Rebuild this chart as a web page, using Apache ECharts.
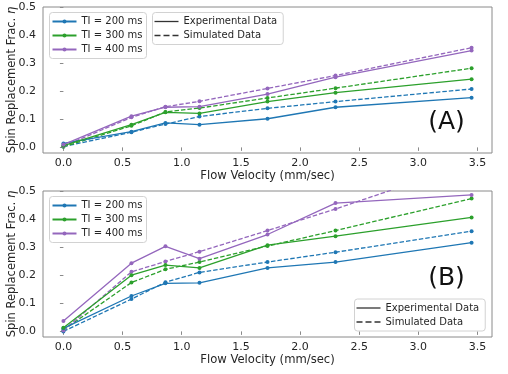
<!DOCTYPE html>
<html>
<head>
<meta charset="utf-8">
<script src="https://cdn.jsdelivr.net/npm/echarts@6.0.0/dist/echarts.min.js"></script>
<style>
  html, body { margin: 0; padding: 0; background: #fff; }
  #main { width: 508px; height: 374px; }
</style>
</head>
<body>
<div id="main"></div>
<script>
// flow velocity (mm/sec), same for every curve
const flowVelocity = [0, 0.575, 0.8625, 1.15, 1.725, 2.3, 3.45];

// panel (A)
const expA200 = [0.014, 0.056, 0.087, 0.081, 0.102, 0.143, 0.177];
const simA200 = [0.003, 0.054, 0.083, 0.110, 0.139, 0.163, 0.208];
const expA300 = [0.006, 0.081, 0.125, 0.121, 0.163, 0.195, 0.243];
const simA300 = [0.002, 0.077, 0.126, 0.140, 0.176, 0.211, 0.282];
const expA400 = [0.010, 0.111, 0.143, 0.145, 0.190, 0.250, 0.345];
const simA400 = [0.004, 0.107, 0.145, 0.164, 0.210, 0.256, 0.355];

// panel (B)
const expB200 = [0.011, 0.126, 0.171, 0.173, 0.226, 0.247, 0.316];
const simB200 = [0.000, 0.115, 0.175, 0.210, 0.247, 0.282, 0.357];
const expB300 = [0.013, 0.200, 0.236, 0.226, 0.307, 0.339, 0.406];
const simB300 = [0.005, 0.174, 0.221, 0.247, 0.304, 0.359, 0.473];
const expB400 = [0.037, 0.243, 0.303, 0.259, 0.345, 0.457, 0.486];
const simB400 = [0.003, 0.212, 0.249, 0.284, 0.359, 0.436, 0.600];

const tiNames = ['TI = 200 ms', 'TI = 300 ms', 'TI = 400 ms'];
const styleNames = ['Experimental Data', 'Simulated Data'];
const xTicks = [0, 0.5, 1.0, 1.5, 2.0, 2.5, 3.0, 3.5];
const yTicks = [0, 0.1, 0.2, 0.3, 0.4, 0.5];

const colors = ['#1f77b4', '#2ca02c', '#9467bd'];
const spine = '#8a8a8a';
const font = 'DejaVu Sans';

function pairs(ys) {
  return flowVelocity.map((x, i) => [x, ys[i]]);
}

function xAxis(gi) {
  return {
    type: 'value', gridIndex: gi, min: -0.1725, max: 3.6225,
    axisLine: { show: false },
    axisTick: { show: true, length: 3.5, customValues: xTicks, lineStyle: { color: spine } },
    axisLabel: { customValues: xTicks, formatter: v => v.toFixed(1), fontFamily: font, fontSize: 11, color: '#262626', margin: 5, hideOverlap: false },
    splitLine: { show: false },
    name: 'Flow Velocity (mm/sec)', nameLocation: 'middle', nameGap: 17, nameMoveOverlap: false,
    nameTextStyle: { fontFamily: font, fontSize: 11.6, color: '#262626' }
  };
}

function yAxis(gi) {
  return {
    type: 'value', gridIndex: gi, min: -0.02, max: 0.5,
    axisLine: { show: false },
    axisTick: { show: true, length: 3.5, customValues: yTicks, lineStyle: { color: spine } },
    axisLabel: { customValues: yTicks, formatter: v => v.toFixed(1), fontFamily: font, fontSize: 11, color: '#262626', margin: 7, hideOverlap: false },
    splitLine: { show: false },
    name: '{n|Spin Replacement Frac. }{e|η}', nameLocation: 'middle', nameGap: 25, nameMoveOverlap: false,
    nameTextStyle: {
      color: '#262626',
      rich: {
        n: { fontFamily: font, fontSize: 11.5, color: '#262626' },
        e: { fontFamily: font, fontSize: 11.5, fontStyle: 'italic', color: '#262626' }
      }
    }
  };
}

function lineSeries(name, ys, ci, gi, dashed) {
  return {
    type: 'line', name: name, data: pairs(ys),
    xAxisIndex: gi, yAxisIndex: gi,
    color: colors[ci],
    symbol: 'circle', symbolSize: 4, showAllSymbol: true,
    lineStyle: { width: 1.3, type: dashed ? [4.5, 2] : 'solid' },
    clip: true, z: dashed ? 2 : 3
  };
}

const series = [
  lineSeries(tiNames[0], expA200, 0, 0, false),
  lineSeries(tiNames[1], expA300, 1, 0, false),
  lineSeries(tiNames[2], expA400, 2, 0, false),
  lineSeries('sim 200 A', simA200, 0, 0, true),
  lineSeries('sim 300 A', simA300, 1, 0, true),
  lineSeries('sim 400 A', simA400, 2, 0, true),
  lineSeries('exp 200 B', expB200, 0, 1, false),
  lineSeries('exp 300 B', expB300, 1, 1, false),
  lineSeries('exp 400 B', expB400, 2, 1, false),
  lineSeries('sim 200 B', simB200, 0, 1, true),
  lineSeries('sim 300 B', simB300, 1, 1, true),
  lineSeries('sim 400 B', simB400, 2, 1, true),
  // only for the line-style legend
  { type: 'line', name: styleNames[0], data: [], color: '#333', xAxisIndex: 0, yAxisIndex: 0 },
  { type: 'line', name: styleNames[1], data: [], color: '#333', xAxisIndex: 0, yAxisIndex: 0 }
];

const solidIcon = 'path://M0,0H24V1.3H0Z';
const dashIcon = 'path://M0,0H6V1.3H0ZM9,0H15V1.3H9ZM18,0H24V1.3H18Z';

const legendBase = {
  orient: 'vertical', itemGap: 0, itemHeight: 5, itemWidth: 24,
  selectedMode: false,
  textStyle: { fontFamily: font, fontSize: 10, lineHeight: 14, color: '#262626' },
  itemStyle: { borderWidth: 0 },
  borderColor: '#d2d2d2', borderWidth: 1, borderRadius: 3,
  backgroundColor: 'rgba(255,255,255,0.8)'
};

function tiLegend(top) {
  return Object.assign({}, legendBase, { left: 49.5, top: top, padding: [2, 4, 2, 2], data: tiNames });
}
function styleLegend(left, top) {
  return Object.assign({}, legendBase, {
    left: left, top: top, padding: [2, 6, 2, 2],
    data: [{ name: styleNames[0], icon: solidIcon }, { name: styleNames[1], icon: dashIcon }]
  });
}

const chart = echarts.init(document.getElementById('main'), null, { renderer: 'canvas' });
chart.setOption({
  animation: false,
  backgroundColor: '#fff',
  grid: [
    { left: 43, top: 7, width: 449, height: 146, show: true, borderColor: spine, borderWidth: 1, backgroundColor: 'transparent', outerBoundsMode: 'none' },
    { left: 43, top: 191, width: 449, height: 146, show: true, borderColor: spine, borderWidth: 1, backgroundColor: 'transparent', outerBoundsMode: 'none' }
  ],
  xAxis: [xAxis(0), xAxis(1)],
  yAxis: [yAxis(0), yAxis(1)],
  legend: [
    tiLegend(12.5),
    styleLegend(152.5, 12.5),
    tiLegend(196.5),
    styleLegend(354.5, 299)
  ],
  graphic: [
    { type: 'text', x: 446.5, y: 122, style: { text: '(A)', fontFamily: font, fontSize: 25, fill: '#111', align: 'center', verticalAlign: 'middle' } },
    { type: 'text', x: 446.5, y: 278, style: { text: '(B)', fontFamily: font, fontSize: 25, fill: '#111', align: 'center', verticalAlign: 'middle' } }
  ],
  series: series
});
</script>
</body>
</html>
